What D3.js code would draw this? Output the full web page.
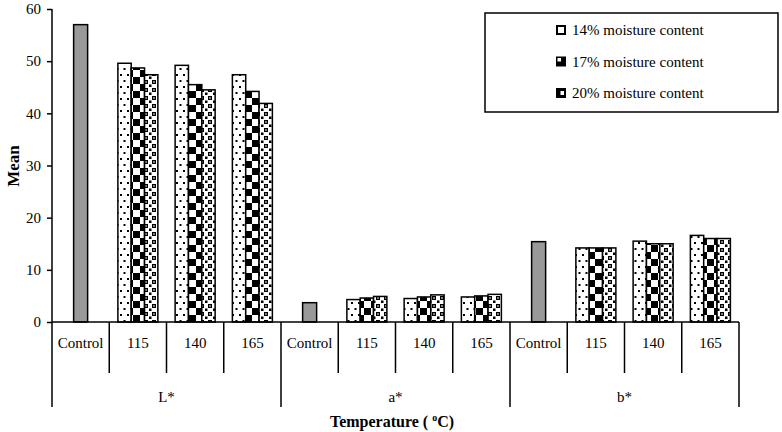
<!DOCTYPE html>
<html lang="en">
<head>
<meta charset="utf-8">
<title>Colour means</title>
<script src="https://cdn.jsdelivr.net/npm/d3@7"></script>
<style>
  body { margin: 0; background: #fff; }
  text { font-family: "Liberation Serif", "Times New Roman", serif; fill: #000; }
</style>
</head>
<body>
<script>
// data
var groups = ["L*", "a*", "b*"];
var temps = ["Control", "115", "140", "165"];
var series = ["14% moisture content", "17% moisture content", "20% moisture content"];
var control = [57.0, 3.7, 15.4];
// per group: values at 115, 140, 165
var m14 = [[49.6, 49.2, 47.4], [4.3, 4.5, 4.8], [14.2, 15.5, 16.6]];
var m17 = [[48.7, 45.5, 44.2], [4.6, 4.8, 5.0], [14.2, 15.0, 16.0]];
var m20 = [[47.4, 44.5, 41.9], [4.9, 5.2, 5.3], [14.2, 15.0, 16.0]];
var yTicks = [0, 10, 20, 30, 40, 50, 60];

var w = 782, h = 432;
var left = 52, right = 739, topY = 9, base = 322;

var svg = d3.select("body").append("svg")
  .attr("width", w).attr("height", h);

// fill patterns
var defs = svg.append("defs");
var p14 = defs.append("pattern").attr("id", "p14")
  .attr("patternUnits", "userSpaceOnUse").attr("width", 7).attr("height", 12);
p14.append("rect").attr("width", 7).attr("height", 12).attr("fill", "#fff");
p14.append("rect").attr("x", 1).attr("y", 2).attr("width", 2).attr("height", 2).attr("fill", "#000");
p14.append("rect").attr("x", 4.5).attr("y", 8).attr("width", 2).attr("height", 2).attr("fill", "#000");

var p17 = defs.append("pattern").attr("id", "p17")
  .attr("patternUnits", "userSpaceOnUse").attr("width", 14).attr("height", 14);
p17.append("rect").attr("width", 14).attr("height", 14).attr("fill", "#fff");
p17.append("rect").attr("width", 7).attr("height", 7).attr("fill", "#000");
p17.append("rect").attr("x", 7).attr("y", 7).attr("width", 7).attr("height", 7).attr("fill", "#000");

var p20 = defs.append("pattern").attr("id", "p20")
  .attr("patternUnits", "userSpaceOnUse").attr("width", 8).attr("height", 8);
p20.append("rect").attr("width", 8).attr("height", 8).attr("fill", "#fff");
p20.append("rect").attr("x", 0).attr("y", 0).attr("width", 4).attr("height", 4).attr("fill", "#000");
p20.append("rect").attr("x", 1.3).attr("y", 1.3).attr("width", 1.4).attr("height", 1.4).attr("fill", "#fff");
p20.append("rect").attr("x", 5).attr("y", 4.5).attr("width", 2.5).attr("height", 2.5).attr("fill", "#000");

var fills = ["url(#p14)", "url(#p17)", "url(#p20)"];

// scales
var cats = [];
groups.forEach(function(g) {
  temps.forEach(function(t) { cats.push(g + "|" + t); });
});
var x = d3.scaleBand().domain(cats).range([left, right]);
var y = d3.scaleLinear().domain([0, 60]).range([base, topY]);
var inner = d3.scaleBand().domain(series).range([-20, 20]);

// bar records
var bars = [];
var all = [m14, m17, m20];
groups.forEach(function(g, gi) {
  bars.push({ cat: g + "|Control", x0: -7, bw: 14, v: control[gi], fill: "#999" });
  temps.slice(1).forEach(function(t, ti) {
    series.forEach(function(s, si) {
      bars.push({ cat: g + "|" + t, x0: inner(s), bw: inner.bandwidth(), v: all[si][gi][ti], fill: fills[si] });
    });
  });
});

svg.selectAll("rect.bar")
  .data(bars)
  .enter()
  .append("rect")
  .attr("class", "bar")
  .attr("x", function(d) { return x(d.cat) + x.bandwidth() / 2 + d.x0; })
  .attr("y", function(d) { return y(d.v); })
  .attr("width", function(d) { return d.bw; })
  .attr("height", function(d) { return base - y(d.v); })
  .attr("fill", function(d) { return d.fill; })
  .attr("stroke", "#000")
  .attr("stroke-width", 1.5);

// y axis
var yAxis = svg.append("g")
  .attr("transform", "translate(" + left + ",0)")
  .call(d3.axisLeft(y).tickValues(yTicks).tickSize(5).tickPadding(6));
yAxis.select(".domain").attr("stroke-width", 1.5).attr("d", "M0," + topY + "V" + base);
yAxis.selectAll(".tick line").attr("stroke-width", 1.5);
yAxis.selectAll("text")
  .style("font-family", "Liberation Serif, serif").style("font-size", "15px");

// category table under the axis
var tbl = svg.append("g").attr("stroke", "#000").attr("stroke-width", 1.5);
tbl.append("line").attr("x1", left).attr("x2", right).attr("y1", base).attr("y2", base);
cats.forEach(function(c, i) {
  var xx = x(c);
  var isGroup = (i % temps.length === 0);
  tbl.append("line").attr("x1", xx).attr("x2", xx)
    .attr("y1", base).attr("y2", isGroup ? 407 : 373);
});
tbl.append("line").attr("x1", right).attr("x2", right).attr("y1", base).attr("y2", 407);

svg.selectAll("text.cat")
  .data(cats)
  .enter()
  .append("text")
  .attr("class", "cat")
  .attr("x", function(d) { return x(d) + x.bandwidth() / 2; })
  .attr("y", 348)
  .attr("text-anchor", "middle")
  .attr("font-size", "15px")
  .text(function(d) { return d.split("|")[1]; });

svg.selectAll("text.grp")
  .data(groups)
  .enter()
  .append("text")
  .attr("class", "grp")
  .attr("x", function(d) {
    return (x(d + "|Control") + x(d + "|165") + x.bandwidth()) / 2;
  })
  .attr("y", 402)
  .attr("text-anchor", "middle")
  .attr("font-size", "15px")
  .text(function(d) { return d; });

// axis titles
var xt = svg.append("text")
  .attr("x", 392).attr("y", 427)
  .attr("text-anchor", "middle")
  .attr("font-size", "16px").attr("font-weight", "bold");
xt.append("tspan").text("Temperature ( ");
xt.append("tspan").attr("font-size", "10px").attr("dy", -6).text("o");
xt.append("tspan").attr("dy", 6).text("C)");

svg.append("text")
  .attr("transform", "translate(19,166) rotate(-90)")
  .attr("text-anchor", "middle")
  .attr("font-size", "17px").attr("font-weight", "bold")
  .text("Mean");

// legend
var lg = svg.append("g");
lg.append("rect").attr("x", 485).attr("y", 13).attr("width", 293).attr("height", 99)
  .attr("fill", "#fff").attr("stroke", "#000").attr("stroke-width", 1.5);
var ly = d3.scalePoint().domain(series).range([30, 93]);
var items = lg.selectAll("g.item")
  .data(series)
  .enter()
  .append("g")
  .attr("class", "item")
  .attr("transform", function(d) { return "translate(557," + ly(d) + ")"; });
items.append("rect")
  .attr("x", 0).attr("y", -4).attr("width", 8).attr("height", 8)
  .attr("fill", function(d, i) { return i === 0 ? "#fff" : "#000"; })
  .attr("stroke", "#000").attr("stroke-width", 2);
items.filter(function(d, i) { return i === 1; })
  .append("rect").attr("x", 0.5).attr("y", -3.5).attr("width", 3.5).attr("height", 3.5).attr("fill", "#fff");
items.filter(function(d, i) { return i === 2; })
  .append("rect").attr("x", 3.5).attr("y", -2).attr("width", 3.5).attr("height", 4).attr("fill", "#fff");
items.append("text")
  .attr("x", 15).attr("y", 5)
  .attr("font-size", "15px")
  .text(function(d) { return d; });
</script>
</body>
</html>
